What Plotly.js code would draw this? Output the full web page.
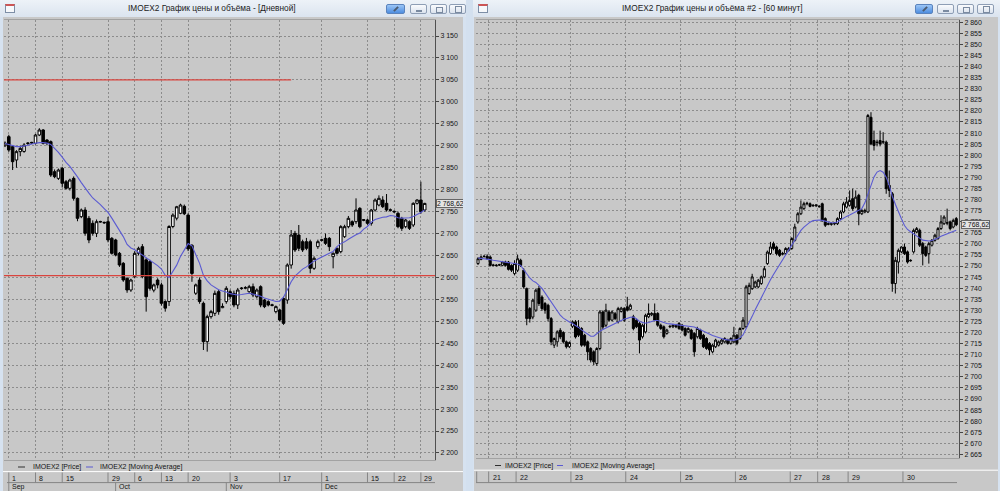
<!DOCTYPE html>
<html><head><meta charset="utf-8">
<script src="https://cdn.plot.ly/plotly-3.0.1.min.js"></script>
<style>
body{margin:0;width:1000px;height:491px;overflow:hidden;background:#d3e0ef;font-family:'Liberation Sans',Arial,sans-serif;position:relative}
.win{position:absolute;top:0;height:491px;background:#d6e2f0}
.tbar{position:absolute;left:0;right:0;top:0;height:17px;background:linear-gradient(#edf2f8,#dbe4ef)}
.ttl{position:absolute;top:3px;font-size:8.3px;color:#1b1b1b;white-space:nowrap}
.ico{position:absolute;left:5px;top:4px;width:8px;height:6px;border:1px solid #7d8ea6;background:#f6f8fb;border-top:2px solid #c55}
.btn{position:absolute;top:4px;height:10px;border:1px solid #8e9eb5;border-radius:2px;background:linear-gradient(#fafbfd,#dbe3ee);box-sizing:border-box}
.pin{background:linear-gradient(#9cc6f6,#4d8de0);border-color:#5a83bd}
.g{position:absolute;background:#4a5a70}
.chart{position:absolute;top:17px;height:474px}
</style></head>
<body>
<div class="win" style="left:0;width:466px">
  <div class="tbar">
    <div class="ico"></div>
    <div class="ttl" style="left:128px">IMOEX2 График цены и объёма - [Дневной]</div>
    <div class="btn pin" style="left:386px;width:19px"><div class="g" style="left:6px;top:3px;width:6px;height:2px;transform:rotate(-45deg)"></div></div>
    <div class="btn" style="left:410px;width:17px"><div class="g" style="left:5px;top:5px;width:6px;height:2px;background:#7a8aa0"></div></div>
    <div class="btn" style="left:430px;width:17px"><div class="g" style="left:5px;top:2px;width:5px;height:4px;background:none;border:1px solid #7a8aa0"></div></div>
    <div class="btn" style="left:449px;width:17px"><div class="g" style="left:5px;top:1px;width:5px;height:5px;background:none;border:1px solid #7a8aa0"></div></div>
  </div>
  <div id="chartL" class="chart" style="left:3px;width:460px"></div>
</div>
<div class="win" style="left:473px;width:527px">
  <div class="tbar">
    <div class="ico"></div>
    <div class="ttl" style="left:149px">IMOEX2 График цены и объёма #2 - [60 минут]</div>
    <div class="btn pin" style="left:442px;width:18px"><div class="g" style="left:6px;top:3px;width:6px;height:2px;transform:rotate(-45deg)"></div></div>
    <div class="btn" style="left:464px;width:17px"><div class="g" style="left:5px;top:5px;width:6px;height:2px;background:#7a8aa0"></div></div>
    <div class="btn" style="left:484px;width:17px"><div class="g" style="left:5px;top:2px;width:5px;height:4px;background:none;border:1px solid #7a8aa0"></div></div>
    <div class="btn" style="left:504px;width:17px"><div class="g" style="left:5px;top:1px;width:5px;height:5px;background:none;border:1px solid #7a8aa0"></div></div>
  </div>
  <div id="chartR" class="chart" style="left:1px;width:524px"></div>
</div>
<script>
// ================= DAILY CHART DATA (bars = trading sessions) =================
const dOpen = [2900,2920.7,2897.9,2867.5,2886.5,2887,2905,2906,2905.5,2924.5,
2935.9,2913.1,2909.3,2840.9,2825.7,2848.5,2818.1,2803,2825.7,2780.2,
2738.4,2753.6,2734.6,2723.2,2700.4,2727.5,2725.5,2727,2689,2685.3,
2654.9,2632.1,2598,2571.3,2601.7,2654.9,2670,2640,2636,2571,
2594,2583,2545,2545,2716,2735,2746,2762,2742,2673,
2564,2594,2541,2453.6,2510.6,2518.2,2567.5,2531,2544.8,2567.5,
2563.7,2537.2,2574.5,2575.5,2567.5,2578.9,2556.1,2578.9,2548.5,2544.8,
2537.5,2522,2525.8,2552,2548.5,2628.3,2700.4,2696.6,2681.4,2681.4,
2681.4,2620.7,2670.1,2684.5,2689,2689,2647.3,2666.3,2658.7,2692.8,
2715.6,2727,2727,2757.4,2731.5,2730.8,2723.2,2753.6,2765,2776.4,
2768.8,2754,2750.5,2746,2734.6,2715.6,2727,2719.4,2768.8,2776.4,2753.6];
const dHigh = [2910,2925,2900,2890,2900,2906,2908,2909,2927,2940,
2938,2915,2912,2846,2848,2852,2822,2825,2830,2782,
2757,2760,2740,2730,2732,2729,2727,2738,2692,2688,
2658,2635,2600,2597,2660,2670,2676,2644,2640,2586,
2598,2588,2548,2719,2746,2763,2768,2766,2746,2676,
2586,2600,2545,2515,2526,2570,2572,2541,2580,2572,
2570,2576,2578,2580,2583,2586,2575,2582,2551,2548,
2540,2536,2528,2556,2632,2708,2706,2719.4,2686,2690,
2686,2648,2686,2688,2700,2692,2657,2668,2719,2720,
2740,2730,2780.2,2760,2733,2734,2756,2780,2787,2785,
2790,2757,2753,2750,2738,2733,2730,2771,2778,2818.1,2770];
const dLow = [2897,2886,2844.7,2850,2876,2884,2902,2904,2903,2922,
2903,2901,2829,2826,2822,2805,2800,2798,2775,2728,
2735,2695,2678,2695,2692,2725,2722,2680,2652,2648,
2624,2590,2565,2567,2598,2650,2598,2522,2570,2566,
2575,2536,2522,2535,2712,2730,2744,2742,2660,2590,
2560,2540,2434.6,2430.9,2506,2512,2515,2530,2540,2550,
2532,2528,2572,2573,2565,2555,2552,2532,2530,2534,
2534,2518,2500,2492,2540,2620,2658,2660,2658,2662,
2609.3,2617,2665,2682,2674,2660,2620.7,2652,2655,2690,
2712,2715,2722,2712,2728,2720,2718,2750,2762,2758,
2750,2750,2747,2712,2706,2712,2708,2715,2766,2745,2750];
const dClose = [2906,2890.3,2863.7,2886.5,2894,2901.7,2906,2907.5,2924.5,2935.9,
2905.5,2905.5,2833.3,2829.5,2844.7,2814.4,2803,2821.9,2780.2,2734.6,
2753.6,2700.4,2685.3,2700.4,2727,2726.5,2724.5,2685.3,2654.9,2651.1,
2628.3,2594.1,2571.3,2594.1,2654.9,2666.3,2602,2556,2575,2583,
2583,2541,2530,2716,2742,2761,2765,2745,2665,2609,
2583,2545,2453.6,2510.6,2522,2563.7,2522,2534,2575.1,2556.1,
2537.2,2571.3,2575.5,2576.5,2578.9,2560,2571.3,2537.2,2533.4,2537.2,
2536.5,2533.4,2503,2495.4,2628.3,2696.6,2662.5,2666.3,2662.5,2666.3,
2620.7,2643.5,2681.4,2685.5,2677.6,2670.1,2654.9,2654.9,2715.6,2715.6,
2734.6,2719.4,2753.6,2715.6,2730.5,2723.2,2753.6,2776.4,2780.2,2761.2,
2753.6,2753,2749.5,2715.6,2711.8,2730.8,2711.8,2768.8,2776.4,2749.8,2768.62];
const dMA = [2905,2903,2900,2898,2898,2899,2901,2904,2906,2907,
2907,2906,2903,2895,2885,2874,2862,2853,2842,2829,
2816,2803,2792,2781,2774,2766,2757,2748,2735,2722,
2708,2693,2675,2667,2663,2657,2651,2645,2639,2634,
2627,2619,2605,2600,2614,2628,2648,2664,2677,2672,
2650,2632,2605,2592,2583,2577,2572,2569,2567,2563,
2561,2560,2561,2563,2564,2562,2560,2557,2553,2550,
2547,2545,2546,2555,2572,2590,2603,2612,2619,2624,
2631,2637,2642,2647,2651,2655,2659,2670,2677,2681,
2687,2693,2697,2701,2710,2716,2726,2732,2735,2737,
2738,2741,2740,2736,2735,2735,2736,2739,2743,2748,2754];
const dTickBars   = [1, 8, 15, 27, 34, 41, 48, 59, 72, 83, 95, 102, 109];
const dTickLabels = ['1','8','15','29','6','13','20','3','17','1','15','22','29'];
const dMonthBars   = [1, 29, 58, 83];
const dMonthLabels = ['Sep','Oct','Nov','Dec'];
const dLevels    = [3050, 2604];
const dLevelEnds = [75, null];

// ================= 60-MINUTE CHART DATA =================
const hOpen = [2751.1,2753.0,2754.4,2754.4,2754.1,2750.5,2750.4,2750.4,2750.3,2751.8,
2751.8,2750.3,2746.6,2748.1,2752.6,2748.1,2739.8,2730.8,2727.0,2730.1,
2739.8,2736.0,2733.1,2732.3,2726.3,2714.3,2715.8,2721.0,2720.0,2715.8,
2713.6,2722.8,2724.8,2722.5,2721.8,2718.8,2715.8,2712.8,2711.3,2706.0,
2712.8,2729.3,2723.3,2729.3,2725.6,2728.5,2724.8,2729.5,2730.8,2731.6,
2730.5,2727.1,2725.6,2724.1,2718.1,2720.3,2727.1,2728.0,2728.6,2728.6,
2723.3,2722.6,2719.6,2722.6,2722.6,2723.3,2724.1,2723.3,2721.8,2720.3,
2721.1,2719.6,2718.1,2721.1,2718.8,2717.3,2715.1,2711.3,2713.6,2714.3,
2715.1,2715.8,2716.6,2715.1,2715.8,2718.8,2717.3,2721.8,2722.6,2737.6,
2739.8,2740.6,2740.6,2742.1,2745.1,2751.1,2755.6,2760.1,2758.6,2757.1,
2755.4,2755.6,2757.1,2757.9,2761.6,2769.9,2773.6,2775.9,2778.1,2778.1,
2777.4,2777.2,2777.0,2778.1,2771.4,2769.1,2768.8,2769.0,2769.1,2771.4,
2774.4,2776.6,2777.4,2780.4,2776.6,2781.9,2773.6,2774.4,2774.4,2817.1,
2806.6,2805.9,2806.6,2805.9,2805.9,2786.4,2782.6,2742.1,2751.8,2756.4,
2758.6,2756.4,2752.6,2756.4,2765.4,2766.1,2760.1,2758.6,2755.6,2759.4,
2761.6,2762.4,2766.9,2769.1,2769.4,2769.9,2767.6,2771.4];
const hHigh = [2754.0,2754.8,2755.0,2755.3,2754.8,2751.0,2750.9,2751.0,2752.3,2752.4,
2752.3,2750.8,2752.6,2755.1,2753.3,2749.0,2740.3,2731.5,2735.3,2739.8,
2741.0,2736.8,2733.8,2733.0,2727.0,2717.8,2721.0,2722.0,2720.6,2716.4,
2716.0,2725.5,2725.6,2725.6,2722.4,2719.4,2716.4,2713.4,2712.0,2713.4,
2730.1,2730.0,2733.0,2730.0,2730.0,2729.3,2731.6,2731.6,2731.5,2736.1,
2733.0,2728.0,2726.2,2724.8,2724.0,2728.5,2733.1,2729.2,2733.1,2729.2,
2724.0,2723.2,2721.7,2723.3,2723.9,2723.9,2724.7,2723.9,2722.4,2722.4,
2721.7,2720.2,2722.6,2721.7,2719.4,2717.9,2715.7,2714.9,2717.2,2716.4,
2717.2,2717.9,2717.2,2717.9,2722.6,2719.4,2722.4,2727.0,2741.5,2742.5,
2746.5,2743.4,2744.2,2745.7,2750.0,2757.0,2760.9,2761.0,2759.2,2757.7,
2756.4,2758.5,2758.6,2763.0,2769.1,2774.4,2779.6,2779.0,2779.0,2778.7,
2778.0,2777.9,2777.5,2778.6,2772.0,2769.7,2769.6,2769.8,2772.0,2775.0,
2779.0,2781.1,2784.1,2784.9,2784.1,2782.6,2775.7,2775.9,2818.6,2819.4,
2811.1,2807.0,2811.1,2810.4,2806.6,2793.1,2783.4,2754.1,2757.9,2758.9,
2760.1,2757.0,2753.0,2766.9,2767.6,2766.9,2760.9,2759.2,2760.9,2762.2,
2764.6,2767.6,2772.9,2772.9,2775.9,2770.5,2771.4,2772.1];
const hLow = [2750.5,2752.6,2753.8,2752.9,2749.8,2749.9,2749.8,2750.0,2749.9,2749.8,
2748.0,2747.3,2745.8,2747.3,2749.6,2739.8,2723.3,2724.5,2726.0,2729.3,
2732.0,2729.8,2728.5,2725.0,2714.3,2713.0,2713.6,2717.0,2715.0,2712.8,
2713.0,2722.0,2717.3,2718.0,2713.6,2713.6,2707.5,2706.5,2705.3,2705.0,
2712.0,2721.5,2722.5,2725.0,2725.0,2725.6,2724.1,2729.0,2724.8,2729.5,
2730.0,2721.0,2722.0,2710.6,2717.3,2719.6,2726.5,2727.4,2725.0,2722.6,
2721.2,2717.3,2719.0,2722.0,2722.0,2722.0,2721.2,2720.5,2718.2,2719.7,
2716.7,2709.1,2717.3,2716.7,2713.0,2712.2,2709.8,2710.6,2713.0,2713.7,
2714.5,2715.2,2714.5,2714.5,2715.2,2714.3,2716.7,2721.2,2722.0,2737.0,
2739.2,2740.0,2740.0,2741.5,2744.5,2750.5,2755.0,2757.1,2754.8,2754.1,
2754.8,2755.0,2756.5,2757.3,2761.0,2769.1,2773.0,2775.3,2777.4,2776.5,
2776.8,2776.6,2776.3,2769.9,2767.6,2768.4,2768.2,2768.4,2768.5,2770.8,
2773.8,2776.0,2776.8,2775.0,2776.0,2768.4,2773.0,2773.8,2773.9,2804.5,
2802.1,2804.0,2804.0,2805.0,2782.6,2781.1,2738.4,2737.6,2746.6,2755.8,
2755.0,2751.1,2752.0,2755.6,2764.8,2758.6,2750.3,2754.1,2751.1,2758.8,
2761.0,2761.8,2766.3,2768.5,2768.4,2766.1,2767.0,2768.0];
const hClose = [2753.3,2754.1,2754.3,2753.3,2750.3,2750.3,2750.2,2750.6,2751.8,2750.3,
2748.5,2748.1,2751.1,2753.3,2750.3,2740.6,2726.3,2726.3,2734.6,2739.1,
2733.1,2730.8,2730.1,2726.3,2715.8,2717.3,2720.3,2718.0,2715.8,2713.6,
2715.5,2724.8,2718.0,2718.8,2714.3,2714.3,2711.3,2707.6,2706.8,2712.8,
2729.3,2722.5,2730.1,2725.6,2729.3,2726.3,2730.8,2731.0,2725.6,2730.1,
2732.3,2721.8,2722.6,2716.6,2723.3,2727.8,2728.6,2728.6,2725.6,2723.3,
2721.8,2718.1,2721.1,2722.8,2723.3,2722.6,2721.8,2721.1,2718.8,2721.8,
2717.3,2711.3,2721.8,2717.3,2713.6,2712.8,2712.1,2714.3,2716.6,2715.8,
2716.6,2717.3,2715.1,2717.3,2718.8,2715.1,2721.8,2725.6,2740.6,2741.3,
2745.1,2742.8,2743.6,2745.1,2748.8,2756.3,2758.6,2757.9,2755.6,2754.8,
2755.6,2757.9,2757.9,2762.4,2767.6,2773.6,2776.6,2778.1,2778.3,2776.9,
2777.2,2777.5,2776.8,2770.6,2768.4,2768.9,2769.1,2769.3,2771.4,2774.4,
2778.1,2778.9,2779.6,2775.9,2781.1,2773.6,2775.1,2775.1,2817.9,2805.1,
2804.4,2805.7,2805.1,2806.1,2784.9,2784.1,2742.1,2752.6,2757.1,2758.6,
2755.6,2751.8,2752.4,2766.1,2766.9,2759.4,2755.6,2754.8,2760.1,2761.6,
2763.9,2766.9,2769.9,2772.1,2769.5,2766.9,2770.6,2768.62];
const hMA = [2753.6,2753.5,2753.3,2753.1,2752.9,2752.6,2752.4,2752.2,2752.0,2751.8,
2751.5,2751.3,2751.1,2750.9,2750.3,2748.5,2746.2,2744.6,2743.3,2742.6,
2741.3,2739.9,2737.9,2735.9,2733.9,2731.4,2729.6,2727.8,2726.5,2725.5,
2724.8,2724.1,2723.3,2722.3,2721.2,2720.1,2719.0,2718.3,2718.4,2719.6,
2720.6,2721.4,2722.1,2722.7,2723.4,2724.2,2725.0,2725.7,2726.1,2726.4,
2726.9,2727.0,2726.2,2725.0,2724.5,2724.2,2724.5,2725.0,2725.4,2725.4,
2724.9,2724.4,2724.1,2723.9,2723.7,2723.5,2723.3,2723.2,2723.0,2722.9,
2722.7,2722.5,2721.9,2721.2,2720.5,2719.8,2719.2,2718.7,2718.2,2717.7,
2717.2,2716.9,2716.7,2716.6,2716.6,2716.8,2717.6,2718.9,2721.5,2724.5,
2727.3,2730.3,2733.0,2736.2,2739.0,2741.4,2743.8,2746.2,2748.4,2750.6,
2752.6,2755.0,2757.4,2759.7,2761.9,2764.0,2766.1,2767.6,2768.8,2769.8,
2770.5,2770.8,2770.8,2770.6,2770.2,2769.8,2769.5,2769.5,2769.9,2770.8,
2771.7,2772.4,2773.0,2773.7,2774.4,2775.1,2775.9,2778.5,2782.5,2786.5,
2790.2,2792.4,2793.1,2792.3,2790.1,2786.4,2781.5,2777.9,2774.3,2771.3,
2768.3,2766.5,2765.5,2764.4,2763.5,2762.6,2761.7,2761.4,2761.3,2761.5,
2761.9,2762.6,2763.4,2764.0,2764.5,2765.0,2765.6,2766.1];
const hDayStartBars = [4, 13, 31, 49, 67, 85, 103, 112, 122, 140];
const hDayLabels    = ['21','22','23','24','25','26','27','28','29','30'];

const seriesNames = ['IMOEX2 [Price]', 'IMOEX2 [Moving Average]'];

// ================= STYLE =================
const FONT = "'Liberation Sans', Arial, sans-serif";
const BG = '#c8c8c8';
const GRID = '#8c8c8c';
const SEP = '#858585';
const MA_COLOR = '#5a5ad2';
const LEVEL_COLOR = '#d9443e';

function fmtPrice(v) {
  const s = v.toFixed(2).replace('.', ',');
  return s.replace(/^(\d)(\d{3})/, '$1 $2');
}
function pxMap(divLeft, divTop, m, w, h) {
  const pw = w - m.l - m.r, ph = h - m.t - m.b;
  return { x: X => (X - divLeft - m.l) / pw, y: Y => (divTop + m.t + ph - Y) / ph };
}
function txt(x, y, text, xref, extra) {
  return Object.assign({ x: x, y: y, xref: xref, yref: 'paper', text: text, showarrow: false,
    xanchor: 'left', yanchor: 'middle', font: { family: FONT, size: 7, color: '#151515' } }, extra || {});
}
function hline(x0, x1, y, color, xref) {
  return { type: 'line', xref: xref || 'paper', yref: 'paper', x0: x0, x1: x1, y0: y, y1: y, line: { color: color, width: 1 } };
}
function vline(x, y0, y1, color) {
  return { type: 'line', xref: 'x', yref: 'paper', x0: x, x1: x, y0: y0, y1: y1, line: { color: color, width: 1 } };
}
function candle(xs, o, h, l, c) {
  return { type: 'candlestick', x: xs, open: o, high: h, low: l, close: c, name: seriesNames[0],
    increasing: { line: { color: '#000', width: 1 }, fillcolor: '#ffffff' },
    decreasing: { line: { color: '#000', width: 1 }, fillcolor: '#000000' },
    whiskerwidth: 0, hoverinfo: 'skip' };
}
function maLine(xs, ys) {
  return { type: 'scatter', mode: 'lines', x: xs, y: ys, name: seriesNames[1],
    line: { color: MA_COLOR, width: 1.1 }, hoverinfo: 'skip' };
}
function baseLayout(w, h, m, xr, yr, dtick, gridVals, gap) {
  return {
    width: w, height: h, margin: m, paper_bgcolor: BG, plot_bgcolor: BG,
    separators: ', ', showlegend: false, boxgap: gap, boxgroupgap: 0.05,
    font: { family: FONT, size: 7, color: '#151515' },
    xaxis: { range: xr, tickvals: gridVals, showticklabels: false, ticks: '', showgrid: true,
      gridcolor: GRID, griddash: '2px,2px', gridwidth: 1, zeroline: false, showline: true, mirror: true,
      linecolor: '#a2a2a2', rangeslider: { visible: false }, fixedrange: true },
    yaxis: { side: 'right', range: yr, dtick: dtick, tick0: 0, tickformat: ',d', ticks: 'outside',
      ticklen: 3, tickcolor: '#444', showgrid: true, gridcolor: GRID, griddash: '2px,2px',
      zeroline: false, showline: true, linecolor: '#505050', automargin: false,
      tickfont: { family: FONT, size: 7, color: '#151515' }, fixedrange: true }
  };
}
const cfg = { staticPlot: true, displayModeBar: false };

// ================= LEFT (daily) =================
(function () {
  const W = 460, H = 474, m = { l: 1, r: 28, t: 3, b: 31, pad: 0 };
  const P = pxMap(3, 17, m, W, H);
  const xs = dClose.map((_, i) => i);
  const lay = baseLayout(W, H, m, [-0.26, 112.7], [2184, 3186.5], 50, dTickBars, 0.3);
  const shapes = [], ann = [];
  dLevels.forEach((lv, i) => {
    const end = dLevelEnds[i];
    if (end === null) shapes.push({ type: 'line', xref: 'paper', yref: 'y', x0: 0, x1: 1, y0: lv, y1: lv, line: { color: LEVEL_COLOR, width: 1.2 } });
    else shapes.push({ type: 'line', xref: 'x', yref: 'y', x0: -1, x1: end, y0: lv, y1: lv, line: { color: LEVEL_COLOR, width: 1.4 } });
  });
  shapes.push(hline(P.x(18), P.x(25), P.y(467), '#303030'));
  ann.push(txt(P.x(31), P.y(467), seriesNames[0], 'paper'));
  shapes.push(hline(P.x(86), P.x(93), P.y(467), MA_COLOR));
  ann.push(txt(P.x(98), P.y(467), seriesNames[1], 'paper'));
  shapes.push(hline(P.x(3), P.x(463), P.y(471.6), '#ffffff'));
  shapes.push(hline(P.x(7), P.x(435), P.y(482.6), SEP));
  dTickBars.forEach((b, i) => {
    shapes.push(vline(b, P.y(472.5), P.y(482.6), SEP));
    ann.push(txt(b, P.y(478), dTickLabels[i], 'x', { xshift: 1.5 }));
  });
  dMonthBars.forEach((b, i) => {
    shapes.push(vline(b, P.y(482.6), P.y(491), SEP));
    ann.push(txt(b, P.y(487), dMonthLabels[i], 'x', { xshift: 1.5 }));
  });
  const last = dClose[dClose.length - 1];
  ann.push({ x: 1, xref: 'paper', y: last, yref: 'y', text: fmtPrice(last), showarrow: false,
    xanchor: 'left', xshift: 1, yanchor: 'middle', bgcolor: '#e4e4e4', bordercolor: '#666', borderwidth: 1,
    borderpad: 0, font: { family: FONT, size: 6.8, color: '#111' } });
  lay.shapes = shapes; lay.annotations = ann;
  Plotly.newPlot('chartL', [candle(xs, dOpen, dHigh, dLow, dClose), maLine(xs, dMA)], lay, cfg);
})();

// ================= RIGHT (60 min) =================
(function () {
  const W = 524, H = 474, m = { l: 2, r: 39, t: 3, b: 33, pad: 0 };
  const P = pxMap(474, 17, m, W, H);
  const xs = hClose.map((_, i) => i);
  const seps = hDayStartBars.map(b => b - 0.5);
  const lay = baseLayout(W, H, m, [-0.66, 157.9], [2663.4, 2861], 5, seps, 0.3);
  const shapes = [], ann = [];
  shapes.push(hline(P.x(495), P.x(501), P.y(465.5), '#303030'));
  ann.push(txt(P.x(503), P.y(465.5), seriesNames[0], 'paper'));
  shapes.push(hline(P.x(557), P.x(563), P.y(465.5), MA_COLOR));
  ann.push(txt(P.x(570), P.y(465.5), seriesNames[1], 'paper'));
  shapes.push(hline(P.x(474), P.x(998), P.y(470.2), '#ffffff'));
  shapes.push(hline(P.x(476), P.x(957), P.y(482.6), SEP));
  shapes.push({ type: 'line', xref: 'paper', yref: 'paper', x0: P.x(476.7), x1: P.x(476.7), y0: P.y(471.5), y1: P.y(482.6), line: { color: SEP, width: 1 } });
  seps.forEach((s, i) => {
    shapes.push(vline(s, P.y(471.5), P.y(482.6), SEP));
    ann.push(txt(s, P.y(477.5), hDayLabels[i], 'x', { xshift: 2 }));
  });
  const last = hClose[hClose.length - 1];
  ann.push({ x: 1, xref: 'paper', y: last, yref: 'y', text: fmtPrice(last), showarrow: false,
    xanchor: 'left', xshift: 2, yanchor: 'middle', bgcolor: '#e4e4e4', bordercolor: '#666', borderwidth: 1,
    borderpad: 0, font: { family: FONT, size: 7, color: '#111' } });
  lay.shapes = shapes; lay.annotations = ann;
  Plotly.newPlot('chartR', [candle(xs, hOpen, hHigh, hLow, hClose), maLine(xs, hMA)], lay, cfg);
})();
</script>
</body></html>
